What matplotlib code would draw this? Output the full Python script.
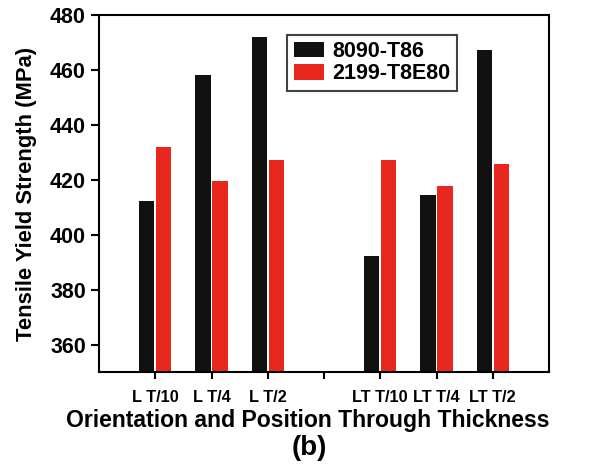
import matplotlib
matplotlib.use("Agg")
import matplotlib.pyplot as plt
import numpy as np

positions = ["L T/10", "L T/4", "L T/2", "", "LT T/10", "LT T/4", "LT T/2"]
alloy_8090 = [412.3, 458.3, 472.0, None, 392.2, 414.3, 467.2]
alloy_2199 = [431.8, 419.5, 427.2, None, 427.2, 417.9, 425.6]
series_names = ["8090-T86", "2199-T8E80"]

plt.rcParams['font.family'] = ['Liberation Sans', 'DejaVu Sans']
plt.rcParams['font.weight'] = 'bold'

fig = plt.figure(figsize=(5.96, 4.74), dpi=100)
ax = fig.add_axes([99 / 596, 1 - 372 / 474, 450 / 596, 357 / 474])

x = np.arange(1, len(positions) + 1)
keep = [i for i, v in enumerate(alloy_8090) if v is not None]
xs = x[keep]
w = 0.27
ax.bar(xs - 0.15, [alloy_8090[i] for i in keep], w, color='#111111',
       label=series_names[0])
ax.bar(xs + 0.15, [alloy_2199[i] for i in keep], w, color='#e8281f',
       label=series_names[1])

ax.set_xlim(0, 8)
ax.set_ylim(350, 480)
ax.set_yticks(np.arange(360, 481, 20))
ax.set_xticks(x)
ax.set_xticklabels(positions, fontsize=11.8, fontweight='bold')
ax.tick_params(axis='y', labelsize=15.5, width=1.5, length=6, direction='out')
ax.tick_params(axis='x', width=1.5, length=5, direction='out', pad=8)
for s in ax.spines.values():
    s.set_linewidth(1.5)

ax.set_ylabel("Tensile Yield Strength (MPa)", fontsize=15.8, fontweight='bold',
              labelpad=9)
fig.text(308 / 596, 1 - 420 / 474, "Orientation and Position Through Thickness",
         fontsize=16.6, fontweight='bold', ha='center', va='center')
fig.text(309 / 596, 1 - 448 / 474, "(b)", fontsize=20, fontweight='bold',
         ha='center', va='center')

leg = ax.legend(loc='upper left', bbox_to_anchor=(0.418, 0.945), fontsize=15.5,
                frameon=True, fancybox=False, handlelength=1.4,
                handleheight=0.75, borderpad=0.3, labelspacing=0.05,
                handletextpad=0.4, borderaxespad=0)
leg.get_frame().set_edgecolor('#111111')
leg.get_frame().set_linewidth(1.5)
for t in leg.get_texts():
    t.set_fontweight('bold')

fig.savefig("out.png", dpi=100)
